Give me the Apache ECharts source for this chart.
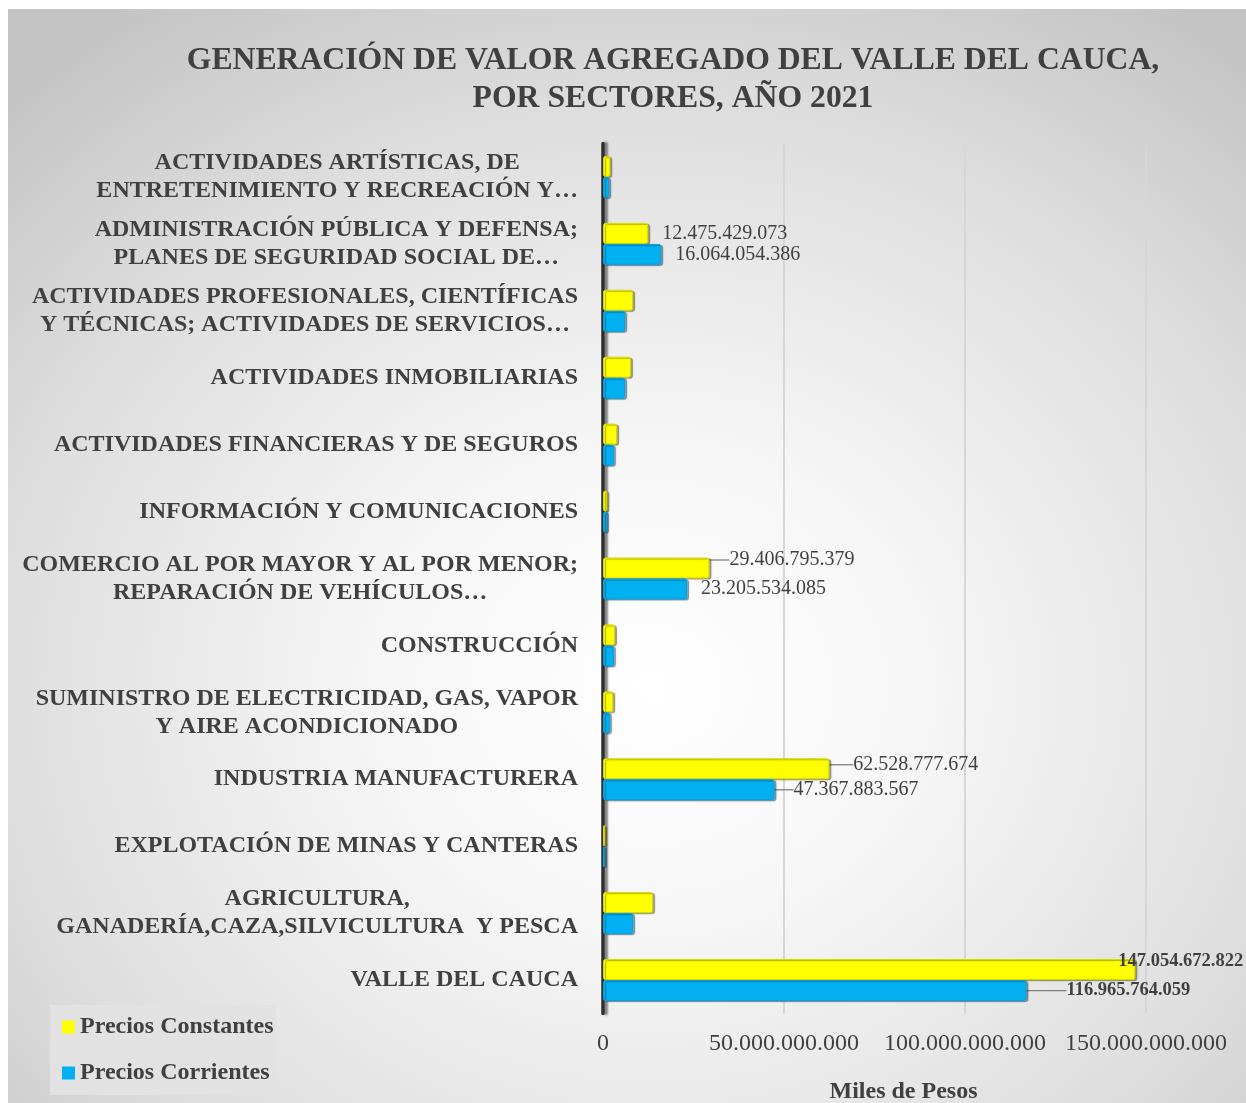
<!DOCTYPE html>
<html lang="es">
<head>
<meta charset="utf-8">
<title>Generación de valor agregado del Valle del Cauca 2021</title>
<script src="https://cdn.jsdelivr.net/npm/echarts@6/dist/echarts.min.js"></script>
<style>
  html, body { margin: 0; padding: 0; background: #ffffff; overflow: hidden; }
  #chart {
    position: absolute; left: 8px; top: 9px; width: 1238px; height: 1094px;
    background: radial-gradient(ellipse 75% 75% at 52% 62%, #ffffff 0%, #f6f6f6 30%, #dedede 70%, #c4c4c4 100%);
  }
</style>
</head>
<body>
<div id="chart"></div>
<script>
// Sectores (de abajo hacia arriba en el eje vertical)
const categories = [
  'VALLE DEL CAUCA',
  'AGRICULTURA,\nGANADERÍA,CAZA,SILVICULTURA  Y PESCA',
  'EXPLOTACIÓN DE MINAS Y CANTERAS',
  'INDUSTRIA MANUFACTURERA',
  'SUMINISTRO DE ELECTRICIDAD, GAS, VAPOR\nY AIRE ACONDICIONADO',
  'CONSTRUCCIÓN',
  'COMERCIO AL POR MAYOR Y AL POR MENOR;\nREPARACIÓN DE VEHÍCULOS…',
  'INFORMACIÓN Y COMUNICACIONES',
  'ACTIVIDADES FINANCIERAS Y DE SEGUROS',
  'ACTIVIDADES INMOBILIARIAS',
  'ACTIVIDADES PROFESIONALES, CIENTÍFICAS\nY TÉCNICAS; ACTIVIDADES DE SERVICIOS…',
  'ADMINISTRACIÓN PÚBLICA Y DEFENSA;\nPLANES DE SEGURIDAD SOCIAL DE…',
  'ACTIVIDADES ARTÍSTICAS, DE\nENTRETENIMIENTO Y RECREACIÓN Y…'
];

// Miles de pesos
const preciosConstantes = [
  147054672822, 13800000000, 600000000, 62528777674, 2800000000, 3300000000,
  29406795379, 1200000000, 3900000000, 7700000000, 8300000000, 12475429073, 2000000000
];
const preciosCorrientes = [
  116965764059, 8300000000, 500000000, 47367883567, 1900000000, 3000000000,
  23205534085, 1100000000, 3000000000, 6100000000, 6100000000, 16064054386, 1700000000
];

// Sectores con etiqueta de valor
const labelledSectors = [0, 3, 6, 11];
const totalRow = 0;

const xTicks = { min: 0, max: 150000000000, step: 50000000000 };

const FONT = 'Liberation Serif';
const TEXT = '#404040';

// Desplazamiento de algunas etiquetas, que llevan línea guía
const labelShift = {
  '0:6': { dx: 6, dy: -8 },
  '0:3': { dx: 10, dy: -4 },
  '1:3': { dx: 5, dy: 0 },
  '0:0': { dx: -31, dy: -8 },
  '1:0': { dx: 26, dy: 0 }
};

function miles(v) {
  return String(Math.round(v)).replace(/\B(?=(\d{3})+(?!\d))/g, '.');
}

function buildData(values, seriesIndex) {
  return values.map(function (v, i) {
    if (labelledSectors.indexOf(i) < 0) return v;
    const shifted = !!labelShift[seriesIndex + ':' + i] && !(i === totalRow && seriesIndex === 0);
    return {
      value: v,
      label: {
        show: true,
        position: 'right',
        distance: 14,
        formatter: function (p) { return miles(p.value); },
        fontFamily: FONT,
        fontSize: i === totalRow ? 18.5 : 20,
        fontWeight: i === totalRow ? 'bold' : 'normal',
        color: TEXT
      },
      labelLine: { show: shifted, lineStyle: { color: '#7f7f7f', width: 1.3 } }
    };
  });
}

const chart = echarts.init(document.getElementById('chart'), null, { renderer: 'canvas' });

const barBase = {
  type: 'bar',
  barWidth: 21,
  barGap: '0%',
  labelLine: { show: false },
  labelLayout: function (p) {
    const s = labelShift[p.seriesIndex + ':' + p.dataIndex];
    return s ? { dx: s.dx, dy: s.dy } : {};
  }
};

chart.setOption({
  backgroundColor: 'transparent',
  animation: false,
  title: {
    text: 'GENERACIÓN DE VALOR AGREGADO DEL VALLE DEL CAUCA,\nPOR SECTORES, AÑO 2021',
    left: 660,
    top: 28,
    textAlign: 'center',
    textStyle: {
      fontFamily: FONT, fontSize: 31.7, fontWeight: 'bold', color: TEXT, lineHeight: 38
    }
  },
  legend: {
    orient: 'vertical',
    left: 42,
    top: 996,
    padding: [10, 2, 10, 12],
    itemGap: 22,
    itemWidth: 13,
    itemHeight: 13,
    icon: 'rect',
    itemStyle: { borderWidth: 0, shadowBlur: 0, shadowOffsetX: 0, shadowOffsetY: 0 },
    backgroundColor: '#e2e2e2',
    textStyle: { fontFamily: FONT, fontSize: 24, fontWeight: 'bold', color: TEXT },
    data: ['Precios Constantes', 'Precios Corrientes']
  },
  grid: { left: 595, right: 100, top: 134.5, bottom: 89.5, containLabel: false, outerBoundsMode: 'none' },
  xAxis: {
    type: 'value',
    min: xTicks.min,
    max: xTicks.max,
    interval: xTicks.step,
    name: 'Miles de Pesos',
    nameLocation: 'middle',
    nameGap: 66,
    nameTextStyle: { fontFamily: FONT, fontSize: 24, fontWeight: 'bold', color: TEXT, padding: [0, 0, 0, 58] },
    axisLine: { show: false },
    axisTick: { show: false },
    axisLabel: {
      margin: 18,
      fontFamily: FONT, fontSize: 24, color: TEXT,
      formatter: function (v) { return miles(v); }
    },
    splitLine: { show: true, lineStyle: { color: '#d6d6d6', width: 2 } }
  },
  yAxis: {
    type: 'category',
    data: categories,
    offset: 3,
    axisTick: { show: false },
    axisLine: {
      show: true,
      lineStyle: { color: '#2e2e2e', width: 3.5, shadowColor: 'rgba(90,90,90,0.8)', shadowBlur: 2, shadowOffsetX: 3 }
    },
    axisLabel: {
      margin: 22,
      align: 'right',
      formatter: function (v) {
        return v.split('\n').map(function (s) { return '{c|' + s + '}'; }).join('\n');
      },
      rich: {
        c: { align: 'center', fontFamily: FONT, fontSize: 24, fontWeight: 'bold', color: TEXT, lineHeight: 28 }
      }
    }
  },
  series: [
    Object.assign({}, barBase, {
      name: 'Precios Constantes',
      data: buildData(preciosConstantes, 0),
      itemStyle: {
        color: '#ffff00', borderColor: '#d8d800', borderWidth: 1, borderRadius: 2,
        shadowColor: 'rgba(60,60,0,0.45)', shadowBlur: 1, shadowOffsetX: 2, shadowOffsetY: 1
      }
    }),
    Object.assign({}, barBase, {
      name: 'Precios Corrientes',
      data: buildData(preciosCorrientes, 1),
      itemStyle: {
        color: '#00b0f0', borderColor: '#0a9fd8', borderWidth: 1, borderRadius: 2,
        shadowColor: 'rgba(0,50,80,0.45)', shadowBlur: 1, shadowOffsetX: 2, shadowOffsetY: 1
      }
    })
  ]
});
</script>
</body>
</html>
